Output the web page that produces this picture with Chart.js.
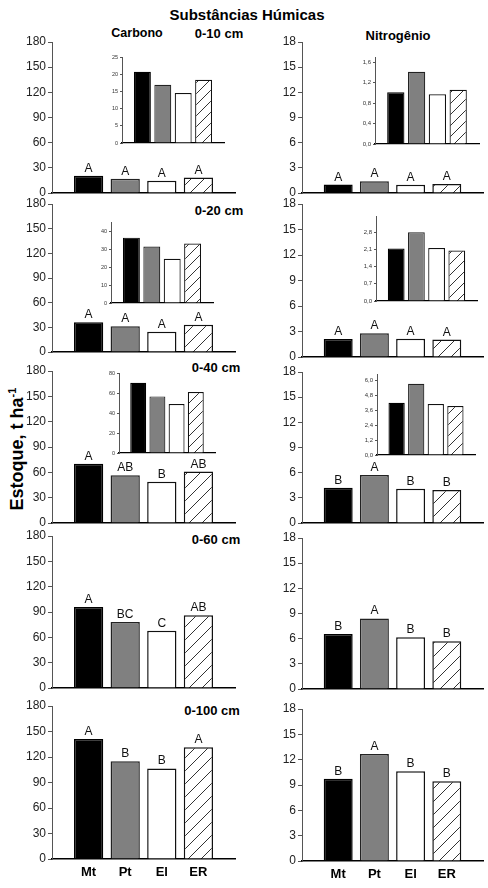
<!DOCTYPE html>
<html><head><meta charset="utf-8">
<script src="https://cdn.jsdelivr.net/npm/chart.js@4.4.1/dist/chart.umd.min.js"></script>
<style>
html,body{margin:0;padding:0;background:#fff;}
#page{position:relative;width:488px;height:888px;overflow:hidden;font-family:Arial,"Liberation Sans",sans-serif;background:#fff;}
canvas{position:absolute;}
.t{position:absolute;font-weight:bold;color:#000;white-space:nowrap;line-height:1;transform:translate(-50%,-50%);}
.yt{position:absolute;font-weight:bold;color:#000;white-space:nowrap;line-height:1;transform:translate(-50%,-50%) rotate(-90deg);}
.yt sup{font-size:11px;vertical-align:7px;}
</style></head><body><div id="page">
<div class="t" style="left:247px;top:14px;font-size:15px;">Substâncias Húmicas</div>
<div class="t" style="left:137px;top:33px;font-size:12.5px;">Carbono</div>
<div class="t" style="left:398px;top:35px;font-size:13px;">Nitrogênio</div>
<div class="t" style="left:219px;top:33px;font-size:13px;">0-10 cm</div>
<div class="t" style="left:219px;top:210px;font-size:13px;">0-20 cm</div>
<div class="t" style="left:216px;top:367px;font-size:13px;">0-40 cm</div>
<div class="t" style="left:216px;top:539px;font-size:13px;">0-60 cm</div>
<div class="t" style="left:212px;top:710px;font-size:13px;">0-100 cm</div>
<div class="yt" style="left:16px;top:449px;font-size:18px;">Estoque, t ha<sup>-1</sup></div>
</div>
<script>
// ---------- DATA ----------
const categories = ['Mt', 'Pt', 'El', 'ER'];

const carbono010  = [20.7, 16.9, 14.5, 18.4];
const carbono020  = [36.3, 31.4, 24.6, 33.0];
const carbono040  = [70.3, 56.6, 48.9, 60.9];
const carbono060  = [95.8, 78.3, 67.8, 86.1];
const carbono0100 = [141.3, 114.9, 106.6, 131.5];

const nitrogenio010  = [1.01, 1.41, 0.97, 1.06];
const nitrogenio020  = [2.13, 2.79, 2.15, 2.05];
const nitrogenio040  = [4.19, 5.71, 4.09, 3.93];
const nitrogenio060  = [6.55, 8.41, 6.16, 5.68];
const nitrogenio0100 = [9.75, 12.67, 10.62, 9.43];

const letrasC010  = ['A', 'A', 'A', 'A'];
const letrasC020  = ['A', 'A', 'A', 'A'];
const letrasC040  = ['A', 'AB', 'B', 'AB'];
const letrasC060  = ['A', 'BC', 'C', 'AB'];
const letrasC0100 = ['A', 'B', 'B', 'A'];

const letrasN010  = ['A', 'A', 'A', 'A'];
const letrasN020  = ['A', 'A', 'A', 'A'];
const letrasN040  = ['B', 'A', 'B', 'B'];
const letrasN060  = ['B', 'A', 'B', 'B'];
const letrasN0100 = ['B', 'A', 'B', 'B'];

// axis tick settings (max, step)
const carbonoTicks = [180, 30];
const nitrogenioTicks = [18, 3];
const insetC010Ticks = [25, 5];
const insetC020Ticks = [45, 10];
const insetC040Ticks = [80, 20];
const insetN010Ticks = [1.7, 0.4];
const insetN020Ticks = [3.45, 0.7];
const insetN040Ticks = [6.5, 1.2];

// ---------- DRAWING ----------
const page = document.getElementById('page');

function hatchTile(s) {
  const c = document.createElement('canvas');
  c.width = c.height = s;
  const g = c.getContext('2d');
  g.fillStyle = '#fff'; g.fillRect(0, 0, s, s);
  g.strokeStyle = '#333'; g.lineWidth = 1;
  g.beginPath();
  g.moveTo(0, s); g.lineTo(s, 0);
  g.moveTo(-s / 2, s / 2); g.lineTo(s / 2, -s / 2);
  g.moveTo(s / 2, s * 1.5); g.lineTo(s * 1.5, s / 2);
  g.stroke();
  return c;
}

const letterPlugin = {
  id: 'letters',
  afterDatasetsDraw(chart, args, opts) {
    if (!opts || !opts.letters) return;
    const ctx = chart.ctx;
    const meta = chart.getDatasetMeta(0);
    ctx.save();
    ctx.font = '12px Arial, "Liberation Sans", sans-serif';
    ctx.fillStyle = '#111';
    ctx.textAlign = 'center';
    ctx.textBaseline = 'alphabetic';
    meta.data.forEach((bar, i) => ctx.fillText(opts.letters[i], bar.x, bar.y - 4));
    ctx.restore();
  }
};

function makeChart(o) {
  const a = o.area;
  const padTop = 10, padRight = 6;
  const xH = o.showX ? 28 : 0;
  const padBottom = o.showX ? 0 : 10;
  const left = a.l - o.yW, top = a.t - padTop;
  const w = (a.r - a.l) + o.yW + padRight;
  const h = (a.b - a.t) + padTop + xH + padBottom;
  const cv = document.createElement('canvas');
  cv.width = w; cv.height = h;
  cv.style.left = left + 'px'; cv.style.top = top + 'px';
  cv.style.width = w + 'px'; cv.style.height = h + 'px';
  page.appendChild(cv);
  const ctx = cv.getContext('2d');
  const pat = ctx.createPattern(hatchTile(o.hatch), 'repeat');
  new Chart(ctx, {
    type: 'bar',
    data: {
      datasets: [{
        data: o.values.map((v, i) => ({ x: i + 1, y: v })),
        backgroundColor: ['#000', '#808080', '#fff', pat],
        borderColor: ['#000', '#222', '#111', '#111'],
        borderWidth: o.bw,
        barPercentage: o.barPct,
        categoryPercentage: 1
      }]
    },
    plugins: [letterPlugin],
    options: {
      responsive: false,
      animation: false,
      devicePixelRatio: 1,
      layout: { padding: { left: 0, top: padTop, right: padRight, bottom: padBottom } },
      plugins: {
        legend: { display: false },
        tooltip: { enabled: false },
        letters: { letters: o.letters || null }
      },
      scales: {
        x: {
          type: 'linear', min: 0, max: categories.length + 1, offset: false,
          afterBuildTicks: (s) => { s.ticks = categories.map((c, i) => ({ value: i + 1 })); },
          afterFit: (s) => { s.height = xH; },
          grid: { display: false, drawTicks: false },
          border: { display: true, color: '#000', width: o.xBorder },
          ticks: {
            display: !!o.showX,
            padding: 6,
            color: '#000',
            font: { family: 'Arial, "Liberation Sans", sans-serif', size: 13, weight: 'bold' },
            callback: (v) => categories[v - 1] || ''
          }
        },
        y: {
          min: 0, max: o.ticks[0],
          afterFit: (s) => { s.width = o.yW; },
          grid: { display: true, drawOnChartArea: false, drawTicks: true, tickLength: o.tickLen, color: '#555', lineWidth: 1 },
          border: { display: true, color: '#555', width: 1 },
          ticks: {
            stepSize: o.ticks[1],
            includeBounds: false,
            padding: o.tickPad,
            color: o.tickColor,
            font: { family: 'Arial, "Liberation Sans", sans-serif', size: o.fontSize },
            callback: o.fmt
          }
        }
      }
    }
  });
}

const intFmt = (v) => String(Math.round(v));
const commaFmt = (v) => v.toFixed(1).replace('.', ',');

const cVals = [carbono010, carbono020, carbono040, carbono060, carbono0100];
const nVals = [nitrogenio010, nitrogenio020, nitrogenio040, nitrogenio060, nitrogenio0100];
const cLet = [letrasC010, letrasC020, letrasC040, letrasC060, letrasC0100];
const nLet = [letrasN010, letrasN020, letrasN040, letrasN060, letrasN0100];

const cAreas = [
  { l: 52, r: 235, t: 42, b: 193 }, { l: 52, r: 235, t: 204, b: 352 },
  { l: 52, r: 235, t: 371, b: 523 }, { l: 52, r: 235, t: 536, b: 688 },
  { l: 52, r: 235, t: 706, b: 859 }];
const nAreas = [
  { l: 302, r: 483, t: 42, b: 193 }, { l: 302, r: 483, t: 204, b: 357 },
  { l: 302, r: 483, t: 372, b: 523 }, { l: 302, r: 483, t: 538, b: 689 },
  { l: 302, r: 483, t: 709, b: 861 }];

const mainStyle = { yW: 52, barPct: 0.8, bw: 1.5, xBorder: 1.5, tickLen: 4, tickPad: 2, tickColor: '#222', fontSize: 12, hatch: 13 };
for (let r = 0; r < 5; r++) {
  makeChart(Object.assign({}, mainStyle, { area: cAreas[r], values: cVals[r], letters: cLet[r], ticks: carbonoTicks, fmt: intFmt, showX: r === 4 }));
  makeChart(Object.assign({}, mainStyle, { area: nAreas[r], values: nVals[r], letters: nLet[r], ticks: nitrogenioTicks, fmt: intFmt, showX: r === 4 }));
}

const insetStyle = { yW: 22, barPct: 0.83, bw: 1.2, xBorder: 1.3, tickLen: 2, tickPad: 2, tickColor: '#333', hatch: 11, showX: false };
makeChart(Object.assign({}, insetStyle, { area: { l: 122, r: 224, t: 57, b: 143 }, values: carbono010, ticks: insetC010Ticks, fmt: intFmt, fontSize: 5.5 }));
makeChart(Object.assign({}, insetStyle, { area: { l: 111, r: 213, t: 222, b: 303 }, values: carbono020, ticks: insetC020Ticks, fmt: intFmt, fontSize: 5.5 }));
makeChart(Object.assign({}, insetStyle, { area: { l: 119, r: 215, t: 373, b: 453 }, values: carbono040, ticks: insetC040Ticks, fmt: intFmt, fontSize: 5.5 }));
makeChart(Object.assign({}, insetStyle, { area: { l: 375, r: 479, t: 57, b: 144 }, values: nitrogenio010, ticks: insetN010Ticks, fmt: commaFmt, fontSize: 6 }));
makeChart(Object.assign({}, insetStyle, { area: { l: 376, r: 477, t: 216, b: 301 }, values: nitrogenio020, ticks: insetN020Ticks, fmt: commaFmt, fontSize: 6 }));
makeChart(Object.assign({}, insetStyle, { area: { l: 377, r: 475, t: 374, b: 455 }, values: nitrogenio040, ticks: insetN040Ticks, fmt: commaFmt, fontSize: 6 }));
</script>
</body></html>
